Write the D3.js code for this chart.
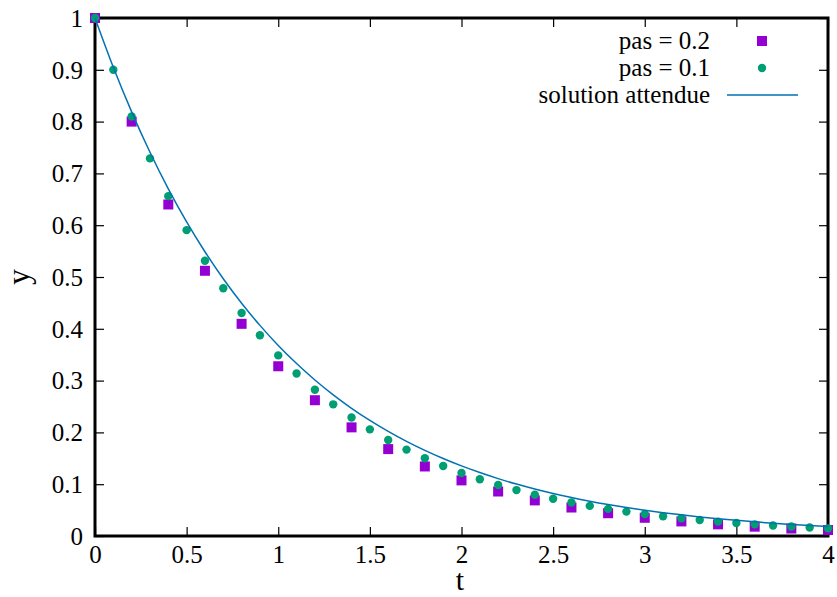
<!DOCTYPE html>
<html>
<head>
<meta charset="utf-8">
<script src="https://cdn.jsdelivr.net/npm/d3@7"></script>
<style>
  body { margin: 0; background: #fff; }
</style>
</head>
<body>
<div id="chart"></div>
<script>
// Euler, pas = 0.2
var tPas02 = [0, 0.2, 0.4, 0.6, 0.8, 1, 1.2, 1.4, 1.6, 1.8, 2, 2.2, 2.4, 2.6, 2.8, 3, 3.2, 3.4, 3.6, 3.8, 4];
var yPas02 = [1, 0.8, 0.64, 0.512, 0.4096, 0.32768, 0.26214, 0.20972, 0.16777, 0.13422, 0.10737,
  0.0859, 0.06872, 0.05498, 0.04398, 0.03518, 0.02815, 0.02252, 0.01801, 0.01441, 0.01153];

// Euler, pas = 0.1
var tPas01 = [0, 0.1, 0.2, 0.3, 0.4, 0.5, 0.6, 0.7, 0.8, 0.9, 1, 1.1, 1.2, 1.3, 1.4, 1.5, 1.6, 1.7, 1.8, 1.9, 2,
  2.1, 2.2, 2.3, 2.4, 2.5, 2.6, 2.7, 2.8, 2.9, 3, 3.1, 3.2, 3.3, 3.4, 3.5, 3.6, 3.7, 3.8, 3.9, 4];
var yPas01 = [1, 0.9, 0.81, 0.729, 0.6561, 0.59049, 0.53144, 0.4783, 0.43047, 0.38742, 0.34868,
  0.31381, 0.28243, 0.25419, 0.22877, 0.20589, 0.1853, 0.16677, 0.15009, 0.13509, 0.12158,
  0.10942, 0.09848, 0.08863, 0.07977, 0.07179, 0.06461, 0.05815, 0.05233, 0.0471, 0.04239,
  0.03815, 0.03434, 0.0309, 0.02781, 0.02503, 0.02253, 0.02028, 0.01825, 0.01642, 0.01478];

// solution attendue
var tSol = tPas01;
var ySol = [1, 0.9048, 0.8187, 0.7408, 0.6703, 0.6065, 0.5488, 0.4966, 0.4493, 0.4066, 0.3679,
  0.3329, 0.3012, 0.2725, 0.2466, 0.2231, 0.2019, 0.1827, 0.1653, 0.1496, 0.1353,
  0.1225, 0.1108, 0.1003, 0.0907, 0.0821, 0.0743, 0.0672, 0.0608, 0.055, 0.0498,
  0.045, 0.0408, 0.0369, 0.0334, 0.0302, 0.0273, 0.0247, 0.0224, 0.0202, 0.0183];

var xTicks = [0, 0.5, 1, 1.5, 2, 2.5, 3, 3.5, 4];
var yTicks = [0, 0.1, 0.2, 0.3, 0.4, 0.5, 0.6, 0.7, 0.8, 0.9, 1];
var legendLabels = ["pas = 0.2", "pas = 0.1", "solution attendue"];

(function() {
  var w = 837, h = 597;
  var pLeft = 95, pRight = 828, pTop = 18, pBottom = 536;
  var serif = "Liberation Serif";

  var x = d3.scaleLinear().domain([0, 4]).range([pLeft, pRight]);
  var y = d3.scaleLinear().domain([0, 1]).range([pBottom, pTop]);

  var svg = d3.select("#chart").append("svg")
    .attr("width", w)
    .attr("height", h);

  //Ticks (inward, mirrored)
  var tickLen = 9;
  var gxb = svg.append("g").attr("transform", "translate(0," + pBottom + ")")
    .call(d3.axisBottom(x).tickValues(xTicks).tickSizeInner(-tickLen).tickSizeOuter(0)
      .tickFormat(function(d) { return d; }));
  gxb.select(".domain").remove();
  gxb.selectAll("line").attr("stroke", "#000").attr("stroke-width", 1.2);
  gxb.selectAll("text").style("font-family", serif).style("font-size", "25px").attr("fill", "#000")
    .attr("y", 27).attr("dy", null);

  var gxt = svg.append("g").attr("transform", "translate(0," + pTop + ")")
    .call(d3.axisTop(x).tickValues(xTicks).tickSizeInner(-tickLen).tickSizeOuter(0).tickFormat(""));
  gxt.select(".domain").remove();
  gxt.selectAll("line").attr("stroke", "#000").attr("stroke-width", 1.2);

  var gyl = svg.append("g").attr("transform", "translate(" + pLeft + ",0)")
    .call(d3.axisLeft(y).tickValues(yTicks).tickSizeInner(-tickLen).tickSizeOuter(0)
      .tickFormat(function(d) { return d; }));
  gyl.select(".domain").remove();
  gyl.selectAll("line").attr("stroke", "#000").attr("stroke-width", 1.2);
  gyl.selectAll("text").style("font-family", serif).style("font-size", "25px").attr("fill", "#000")
    .attr("x", -12).attr("dy", "0.33em");

  var gyr = svg.append("g").attr("transform", "translate(" + pRight + ",0)")
    .call(d3.axisRight(y).tickValues(yTicks).tickSizeInner(-tickLen).tickSizeOuter(0).tickFormat(""));
  gyr.select(".domain").remove();
  gyr.selectAll("line").attr("stroke", "#000").attr("stroke-width", 1.2);

  //Frame
  svg.append("rect")
    .attr("x", pLeft).attr("y", pTop)
    .attr("width", pRight - pLeft).attr("height", pBottom - pTop)
    .attr("fill", "none").attr("stroke", "#000").attr("stroke-width", 3);

  //Axis labels
  svg.append("text").attr("x", 460).attr("y", 590)
    .attr("text-anchor", "middle").style("font-family", serif).style("font-size", "30px").text("t");
  svg.append("text")
    .attr("transform", "translate(29," + ((pTop + pBottom) / 2) + ") rotate(-90)")
    .attr("text-anchor", "middle").style("font-family", serif).style("font-size", "32px").text("y");

  var purple = "#9400d3", green = "#009e73", blue = "#0072b2";

  //pas = 0.2 squares
  svg.selectAll("rect.p02")
    .data(tPas02)
    .enter()
    .append("rect")
    .attr("class", "p02")
    .attr("x", function(d) { return x(d) - 5; })
    .attr("y", function(d, i) { return y(yPas02[i]) - 5; })
    .attr("width", 10).attr("height", 10)
    .attr("fill", purple);

  //pas = 0.1 circles
  svg.selectAll("circle.p01")
    .data(tPas01)
    .enter()
    .append("circle")
    .attr("class", "p01")
    .attr("cx", function(d) { return x(d); })
    .attr("cy", function(d, i) { return y(yPas01[i]); })
    .attr("r", 4.2)
    .attr("fill", green);

  //solution
  var line = d3.line()
    .x(function(d) { return x(d); })
    .y(function(d, i) { return y(ySol[i]); })
    .curve(d3.curveMonotoneX);
  svg.append("path")
    .attr("d", line(tSol))
    .attr("fill", "none")
    .attr("stroke", blue)
    .attr("stroke-width", 1.5);

  //Legend
  var legY = [41, 68, 95];
  var lg = svg.append("g");
  lg.selectAll("text")
    .data(legendLabels)
    .enter()
    .append("text")
    .attr("x", 710)
    .attr("y", function(d, i) { return legY[i]; })
    .attr("dy", "0.33em")
    .attr("text-anchor", "end")
    .style("font-family", serif)
    .style("font-size", "25px")
    .text(function(d) { return d; });
  lg.append("rect").attr("x", 757).attr("y", legY[0] - 5).attr("width", 10).attr("height", 10).attr("fill", purple);
  lg.append("circle").attr("cx", 762).attr("cy", legY[1]).attr("r", 4.2).attr("fill", green);
  lg.append("line").attr("x1", 727).attr("x2", 798).attr("y1", legY[2]).attr("y2", legY[2])
    .attr("stroke", blue).attr("stroke-width", 1.5);
})();
</script>
</body>
</html>
